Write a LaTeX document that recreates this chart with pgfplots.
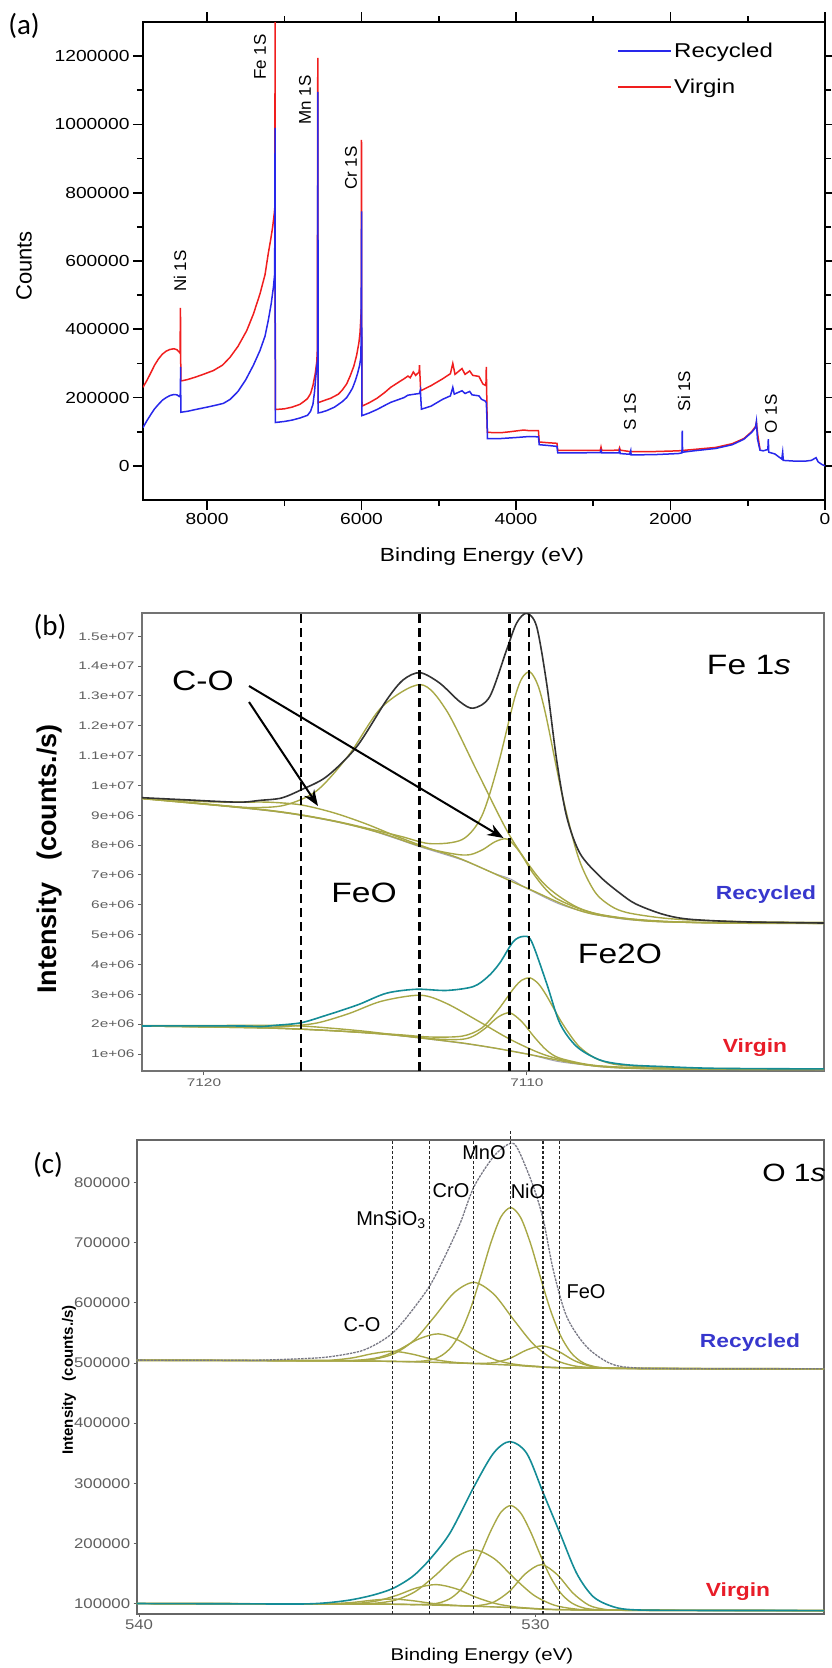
\documentclass[border=0pt]{standalone}
\usepackage{fontspec}
\setmainfont{Liberation Sans}
\newfontfamily\wideA[FakeStretch=1.2]{Liberation Sans}
\newfontfamily\wideB[FakeStretch=1.4]{Liberation Sans}
\newfontfamily\carlito{Carlito}
\usepackage{pgfplots}
\pgfplotsset{compat=1.18}
\usetikzlibrary{arrows.meta}
\newcommand{\fs}[1]{\fontsize{#1}{#1}\selectfont}

\definecolor{svblue}{RGB}{40,40,235}
\definecolor{svred}{RGB}{240,30,30}
\definecolor{olv}{RGB}{168,168,70}
\definecolor{tealc}{RGB}{20,140,150}
\definecolor{bgc}{RGB}{165,165,180}
\definecolor{envg}{RGB}{120,120,132}
\definecolor{lblue}{RGB}{55,55,205}
\definecolor{lred}{RGB}{232,28,40}
\definecolor{tickg}{RGB}{95,95,95}

\begin{document}
\begin{tikzpicture}
\path[use as bounding box] (0pt,0pt) rectangle (832pt,-1668pt);

% ---------------- (a) survey spectra
\begin{axis}[
  at={(143pt,-22pt)}, anchor=north west, scale only axis,
  width=682pt, height=478pt,
  xmin=0, xmax=8830, x dir=reverse,
  ymin=-100000, ymax=1300000,
  xtick={0,2000,4000,6000,8000},
  minor xtick={1000,3000,5000,7000},
  ytick={0,200000,400000,600000,800000,1000000,1200000},
  minor ytick={100000,300000,500000,700000,900000,1100000},
  scaled ticks=false,
  xticklabel style={/pgf/number format/1000 sep={}},
  yticklabel style={/pgf/number format/fixed,/pgf/number format/1000 sep={}},
  /pgf/number format/assume math mode=true,
  tick label style={font=\wideA\fs{16}},
  tick align=outside, major tick length=10pt, minor tick length=6pt,
  tick style={black, line width=1.6pt},
  axis line style={line width=2.2pt},
  clip mode=individual,
  reverse legend,
  legend cell align=left,
  legend style={at={(axis description cs:0.695,0.96)}, anchor=north west,
    draw=none, fill=none, font=\wideA\fs{20}, row sep=16pt, inner sep=0pt},
  legend image code/.code={\draw[#1,line width=2pt] (0pt,0pt) -- (53pt,0pt);},
]
\addplot[svred, line width=1.5pt] coordinates {
(8830,230000) (8780,250000) (8730,272000) (8680,295000) (8630,313000) (8580,327000)
(8530,336000) (8480,341000) (8430,343000) (8390,340000) (8360,333000) (8350,330000)
(8345,463000) (8340,250000) (8329,249000) (8250,253000) (8150,260000) (8050,268000)
(7920,279000) (7800,295000) (7703,318000) (7600,350000) (7487,396000) (7400,445000)
(7315,504000) (7250,560000) (7208,622000) (7175,665000) (7151,700000) (7130,740000)
(7122,760000) (7120,1350000) (7117,165000) (7000,167000) (6900,172000) (6800,180000)
(6750,188000) (6700,197000) (6660,212000) (6630,235000) (6600,270000) (6580,305000)
(6573,338000) (6567,1195000) (6563,185000) (6490,191000) (6400,198000) (6300,210000)
(6250,222000) (6193,240000) (6150,262000) (6100,292000) (6063,325000) (6035,360000)
(6020,390000) (6008,440000) (6003,465000) (6001,955000) (5997,250000) (5994,175000)
(5900,185000) (5800,198000) (5700,215000) (5623,230000) (5500,248000) (5450,255000)
(5400,263000) (5370,258000) (5330,275000) (5300,265000) (5255,275000) (5250,295000)
(5235,220000) (5100,235000) (4950,255000) (4850,270000) (4819,300000) (4790,268000)
(4700,285000) (4660,268000) (4600,278000) (4560,265000) (4480,262000) (4430,240000)
(4390,235000) (4385,290000) (4372,98000) (4200,97000) (4076,100000) (3900,105000)
(3828,103000) (3710,103000) (3700,70000) (3600,68000) (3470,66000) (3460,45000)
(3200,45000) (2910,45000) (2900,55000) (2890,45000) (2670,46000) (2660,53000)
(2650,46000) (2560,43000) (2530,42000) (2200,42000) (1900,44000) (1700,48000)
(1414,54000) (1200,65000) (1050,80000) (1000,90000) (950,100000) (900,115000)
(888,127000) (870,90000) (850,60000) (842,49000)
};
\addlegendentry{Virgin}
\addplot[svblue, line width=1.5pt] coordinates {
(8830,112000) (8780,132000) (8730,150000) (8680,167000) (8630,180000) (8580,192000)
(8530,200000) (8480,206000) (8430,209000) (8390,208000) (8360,203000) (8350,205000)
(8346,215000) (8343,290000) (8340,157000) (8250,160000) (8150,165000) (8000,172000)
(7900,177000) (7789,183000) (7700,195000) (7600,218000) (7500,252000) (7400,295000)
(7315,338000) (7250,380000) (7208,426000) (7170,475000) (7141,524000) (7125,563000)
(7120,990000) (7117,127000) (7000,130000) (6900,134000) (6800,140000) (6700,148000)
(6660,160000) (6630,180000) (6610,215000) (6595,255000) (6580,290000) (6570,310000)
(6566,1095000) (6562,155000) (6520,157000) (6450,162000) (6350,172000) (6250,188000)
(6193,200000) (6150,215000) (6117,228000) (6080,250000) (6050,272000) (6025,295000)
(6008,320000) (6000,745000) (5996,147000) (5900,155000) (5800,165000) (5700,177000)
(5623,186000) (5450,200000) (5400,207000) (5313,210000) (5250,212000) (5239,222000)
(5225,166000) (5100,175000) (4950,195000) (4850,205000) (4819,230000) (4800,210000)
(4700,220000) (4660,212000) (4600,218000) (4570,208000) (4480,205000) (4447,195000)
(4400,190000) (4385,185000) (4375,130000) (4370,80000) (4200,80000) (4000,83000)
(3828,86000) (3710,85000) (3700,62000) (3600,60000) (3470,57000) (3460,38000)
(3200,38000) (2910,39000) (2900,45000) (2890,38000) (2670,38000) (2660,45000)
(2650,36000) (2530,34000) (2515,45000) (2510,32000) (2200,33000) (1900,36000)
(1852,38000) (1848,103000) (1844,40000) (1700,44000) (1414,51000) (1200,62000)
(1050,78000) (1000,88000) (950,98000) (900,112000) (888,130000) (875,80000)
(842,46000) (800,44000) (740,48000) (734,78000) (728,40000) (650,35000)
(560,20000) (548,40000) (540,16000) (400,14000) (250,14000) (177,16000)
(116,24000) (90,12000) (40,4000) (0,0)
};
\addlegendentry{Recycled}
\end{axis}

% ---------------- (b) Fe 1s
\begin{axis}[
  at={(142pt,-613pt)}, anchor=north west, scale only axis,
  width=682pt, height=458pt,
  xmin=7100.8, xmax=7121.92, x dir=reverse,
  ymin=0.43, ymax=15.78,
  xtick={7110,7120},
  ytick={1,2,3,4,5,6,7,8,9,10,11,12,13,14,15},
  yticklabels={1e+06,2e+06,3e+06,4e+06,5e+06,6e+06,7e+06,8e+06,9e+06,1e+07,1.1e+07,1.2e+07,1.3e+07,1.4e+07,1.5e+07},
  xticklabel style={/pgf/number format/1000 sep={}},
  /pgf/number format/assume math mode=true,
  tick label style={font=\wideB\fs{11}, text=tickg},
  tick align=outside, major tick length=4pt,
  xtick pos=bottom, ytick pos=left,
  tick style={tickg, line width=1pt},
  axis line style={draw=black!55, line width=1.6pt},
  clip mode=individual,
]
% recycled
\addplot[bgc, line width=1pt, smooth] coordinates {
(7121.92,9.56) (7120,9.38) (7118,9.15) (7117,9.00) (7116,8.80) (7115,8.55) (7114,8.20)
(7113.3,7.94) (7112,7.50) (7111,7.05) (7110.5,6.86) (7110,6.55) (7109,6.03) (7108,5.70)
(7107,5.52) (7106,5.44) (7105,5.41) (7103,5.39) (7100.8,5.38)};
\addplot[olv, line width=1.4pt, smooth] coordinates {
(7121.92,9.58) (7120,9.46) (7119,9.44) (7118,9.44) (7117,9.35) (7116,9.09) (7115,8.72)
(7114,8.28) (7113,7.88) (7112,7.52) (7110,6.56) (7108,5.70) (7105,5.41) (7100.8,5.38)};
\addplot[olv, line width=1.4pt, smooth] coordinates {
(7121.92,9.56) (7119.5,9.33) (7118.5,9.26) (7117.5,9.34) (7116.5,9.83) (7115.5,11.04)
(7114.5,12.62) (7113.3,13.38) (7112.5,12.53) (7111.5,10.38) (7110.5,8.26) (7109.5,6.74)
(7108.5,5.95) (7107.5,5.62) (7106,5.44) (7103,5.39) (7100.8,5.38)};
\addplot[olv, line width=1.4pt, smooth] coordinates {
(7121.92,9.56) (7118,9.16) (7116,8.81) (7114.5,8.40) (7113.6,8.07) (7112.85,7.83)
(7112.1,7.68) (7111.725,7.69) (7111.35,7.86) (7110.975,8.12) (7110.6,8.20) (7110.225,7.77)
(7109.85,7.12) (7109.475,6.59) (7109.1,6.22) (7108.35,5.86) (7107.6,5.65) (7106,5.45)
(7103,5.39) (7100.8,5.38)};
\addplot[olv, line width=1.4pt, smooth] coordinates {
(7121.92,9.58) (7118,9.17) (7116,8.82) (7114,8.32) (7113,8.05) (7112,8.19) (7111.4,8.97)
(7110.9,10.66) (7110.4,12.85) (7110.15,13.60) (7109.9,13.80) (7109.65,13.33) (7109.4,12.29)
(7108.9,9.65) (7108.4,7.57) (7107.9,6.44) (7107.4,5.96) (7106.9,5.74) (7105.9,5.57)
(7104.9,5.49) (7103,5.43) (7100.8,5.41)};
\addplot[black!80, line width=1.6pt, smooth] coordinates {
(7121.92,9.59) (7120.58,9.52) (7118.94,9.44) (7118.27,9.50) (7117.6,9.58) (7116.98,9.86)
(7116.20,10.30) (7115.27,11.30) (7114.34,12.87) (7113.83,13.54) (7113.31,13.78)
(7112.70,13.43) (7112.08,12.81) (7111.66,12.59) (7111.15,12.98) (7110.63,14.54)
(7110.32,15.44) (7110.01,15.77) (7109.70,15.33) (7109.39,13.43) (7109.08,10.86)
(7108.77,8.96) (7108.36,7.73) (7107.74,6.95) (7107.12,6.39) (7106.63,6.03) (7105.81,5.69)
(7105.0,5.52) (7103.35,5.43) (7100.8,5.39)};
% virgin
\addplot[bgc, line width=1pt, smooth] coordinates {
(7121.92,1.936) (7118.94,1.90) (7117.13,1.84) (7114.83,1.70) (7113.36,1.54) (7111.88,1.34)
(7110.57,1.12) (7109.91,0.98) (7109.09,0.76) (7108.27,0.64) (7107.45,0.55) (7105.81,0.50)
(7100.8,0.48)};
\addplot[olv, line width=1.4pt, smooth] coordinates {
(7121.92,1.95) (7120,1.95) (7119,1.96) (7118,1.96) (7117,1.94) (7116,1.86) (7115,1.76)
(7114,1.63) (7113,1.50) (7112,1.37) (7111,1.20) (7110,1.00) (7108,0.62) (7105,0.50) (7100.8,0.48)};
\addplot[olv, line width=1.4pt, smooth] coordinates {
(7121.92,1.936) (7119.5,1.91) (7118.5,1.90) (7117.5,1.92) (7116.5,2.04) (7115.5,2.36)
(7114.5,2.77) (7113.3,2.97) (7112.5,2.70) (7111.5,2.10) (7110.5,1.48) (7109.5,0.99)
(7108.5,0.70) (7107.5,0.56) (7105.8,0.50) (7100.8,0.48)};
\addplot[olv, line width=1.4pt, smooth] coordinates {
(7121.92,1.94) (7118,1.87) (7116,1.78) (7114.5,1.67) (7113.53,1.58) (7112.78,1.50)
(7112.03,1.49) (7111.655,1.60) (7111.28,1.87) (7110.905,2.23) (7110.53,2.38) (7110.155,2.08)
(7109.78,1.58) (7109.405,1.14) (7109.03,0.88) (7108.28,0.68) (7107.53,0.58) (7106,0.51)
(7103,0.49) (7100.8,0.48)};
\addplot[olv, line width=1.4pt, smooth] coordinates {
(7121.92,1.94) (7118,1.87) (7116,1.78) (7114,1.65) (7113,1.57) (7112,1.60) (7111.4,1.87)
(7110.9,2.47) (7110.4,3.21) (7110.15,3.48) (7109.9,3.55) (7109.65,3.36) (7109.4,2.97)
(7108.9,2.02) (7108.4,1.27) (7107.9,0.87) (7107.4,0.68) (7106.9,0.61) (7105.9,0.55)
(7104.9,0.52) (7103,0.505) (7100.8,0.49)};
\addplot[tealc, line width=1.6pt, smooth] coordinates {
(7121.92,1.94) (7118.94,1.94) (7118.27,1.92) (7117.79,1.96) (7116.98,2.05) (7116.15,2.32)
(7115.69,2.48) (7115.16,2.68) (7114.34,3.04) (7113.42,3.17) (7112.49,3.13) (7111.66,3.26)
(7111.2,3.60) (7110.84,4.05) (7110.42,4.77) (7110.11,4.94) (7109.86,4.78) (7109.39,3.37)
(7108.98,2.03) (7108.46,1.25) (7107.74,0.80) (7106.92,0.64) (7105.81,0.58) (7104.17,0.52)
(7100.8,0.50)};
% reference lines
\foreach \e in {7117.0,7113.32,7110.53,7109.94}{
  \edef\tmp{\noexpand\draw[black, line width=2.6pt, dash pattern=on 9pt off 5pt]
    (axis cs:\e,0.43) -- (axis cs:\e,15.78);}\tmp}
\end{axis}

% ---------------- (c) O 1s
\begin{axis}[
  at={(136.7pt,-1139.8pt)}, anchor=north west, scale only axis,
  width=687.3pt, height=473.8pt,
  xmin=522.72, xmax=540.06, x dir=reverse,
  ymin=83200, ymax=871200,
  xtick={530,540},
  ytick={100000,200000,300000,400000,500000,600000,700000,800000},
  scaled ticks=false,
  yticklabel style={/pgf/number format/fixed,/pgf/number format/1000 sep={}},
  /pgf/number format/assume math mode=true,
  tick label style={font=\wideA\fs{14}, text=tickg},
  tick align=outside, major tick length=3pt,
  xtick pos=bottom, ytick pos=left,
  tick style={tickg, line width=1pt},
  axis line style={draw=black!60, line width=2pt},
  clip mode=individual,
]
% recycled
\addplot[bgc, line width=1pt, smooth] coordinates {
(540.06,504500) (536,504000) (534.5,503500) (533.5,502500) (532.5,501000) (531.5,499000)
(530.6,496500) (530,494500) (529.5,493000) (529,491800) (528,490800) (526,490400) (522.72,490400)};
\addplot[olv, line width=1.4pt, smooth] coordinates {
(540.06,504600) (535.6,504150) (535.1,504990) (534.6,508700) (534.1,515650) (533.6,519600)
(533.1,514650) (532.6,506400) (532.1,501490) (531.6,499350) (530.6,496500) (529,491800) (522.72,490400)};
\addplot[olv, line width=1.4pt, smooth] coordinates {
(540.06,504500) (536,504000) (534.95,503885) (534.45,504760) (533.95,509310) (533.45,521920)
(532.95,539750) (532.45,548500) (531.95,538050) (531.45,518420) (530.95,503810) (530.45,497260)
(529.95,494485) (529,491800) (522.72,490400)};
\addplot[olv, line width=1.4pt, smooth] coordinates {
(540.06,504500) (536,504000) (535.05,503910) (534.55,504240) (534.05,506650) (533.55,516000)
(533.05,538600) (532.55,576800) (532.05,617000) (531.55,634100) (531.05,614500) (530.55,572000)
(530.05,531300) (529.55,506500) (529.05,495550) (528.55,492140) (528.05,491110) (526,490400)
(522.72,490400)};
\addplot[olv, line width=1.4pt, smooth] coordinates {
(540.06,504500) (535,503800) (533.12,502450) (532.62,505600) (532.37,512300) (532.12,526700)
(531.87,553000) (531.62,593500) (531.37,646000) (531.12,700800) (530.87,743000) (530.62,758500)
(530.37,741500) (530.12,697900) (529.87,641600) (529.62,587700) (529.37,546000) (529.12,518700)
(528.87,503300) (528.62,496000) (528.12,491450) (526,490400) (522.72,490400)};
\addplot[olv, line width=1.4pt, smooth] coordinates {
(540.06,504500) (534,503000) (531.82,499650) (531.42,499300) (531.02,500890) (530.62,508470)
(530.22,521700) (529.82,528500) (529.42,519400) (529.02,503970) (528.62,494790) (528.22,491600)
(527.82,490845) (526,490400) (522.72,490400)};
\addplot[envg, line width=1.3pt, dash pattern=on 2.5pt off 1pt, smooth] coordinates {
(540.06,504800) (538,504500) (536.8,505000) (535.5,508500) (534.96,512600) (534.4,520000)
(534.0,532000) (533.6,550000) (533.2,580000) (532.68,626900) (532.3,675000) (531.9,732300)
(531.55,793200) (531.06,843100) (530.72,862600) (530.55,865000) (530.39,848700) (530.05,793200)
(529.80,737800) (529.55,654600) (529.21,577000) (528.71,527100) (528.12,499500) (527.5,492000)
(526,490500) (522.72,490400)};
% virgin
\addplot[bgc, line width=1pt, smooth] coordinates {
(540.06,100000) (536,99500) (534,99000) (533,98200) (532,96800) (531,94500) (530.5,93000)
(530,91500) (529.5,90300) (529,89500) (528,88700) (526,88400) (522.72,88300)};
\addplot[olv, line width=1.4pt, smooth] coordinates {
(540.06,100000) (535.6,99580) (535.1,99930) (534.6,101850) (534.1,105600) (533.6,107500)
(533.1,104700) (532.6,100150) (532.1,97230) (531.6,95680) (530.5,93000) (529,89500) (522.72,88300)};
\addplot[olv, line width=1.4pt, smooth] coordinates {
(540.06,100000) (536,99500) (535,99450) (534.5,100270) (534,104340) (533.5,113560) (533,125880)
(532.5,131500) (532,124480) (531.5,110460) (531,99840) (530.5,94270) (530,91700) (529,89500)
(522.72,88300)};
\addplot[olv, line width=1.4pt, smooth] coordinates {
(540.06,100000) (536,99500) (534.53,99280) (534.03,100600) (533.53,105670) (533.03,119980)
(532.53,146500) (532.03,176370) (531.53,189100) (531.03,174070) (530.53,141900) (530.03,113380)
(529.53,97370) (529.03,91150) (528.53,89380) (526,88400) (522.72,88300)};
\addplot[olv, line width=1.4pt, smooth] coordinates {
(540.06,100000) (534,99000) (533.12,98240) (532.62,99220) (532.37,102150) (532.12,109540)
(531.87,124300) (531.62,149400) (531.37,184000) (531.12,221700) (530.87,251800) (530.62,262900)
(530.37,250400) (530.12,218900) (529.87,179700) (529.62,143900) (529.37,118000) (529.12,102440)
(528.87,94350) (528.62,90820) (528.12,88940) (526,88400) (522.72,88300)};
\addplot[olv, line width=1.4pt, smooth] coordinates {
(540.06,100000) (534,99000) (531.85,96160) (531.45,96540) (531.05,102470) (530.65,120680)
(530.25,149670) (529.85,164700) (529.45,147970) (529.05,117180) (528.65,97170) (528.25,90240)
(527.85,88760) (526,88400) (522.72,88300)};
\addplot[tealc, line width=1.6pt, smooth] coordinates {
(540.06,100000) (537.5,99500) (535.94,99200) (535.3,101000) (534.68,105800) (534.1,114000)
(533.59,125300) (533.1,145000) (532.68,172300) (532.16,216800) (531.55,294300) (531.06,349800)
(530.65,369300) (530.22,349800) (529.80,283300) (529.38,216800) (528.96,150200) (528.54,111300)
(528.04,94700) (527.5,89500) (526,88500) (522.72,88300)};
% reference lines
\foreach \e in {533.60,532.67,531.56,529.81,529.39}{
  \edef\tmp{\noexpand\draw[black!85, line width=1.3pt, dash pattern=on 3pt off 2pt]
    (axis cs:\e,83200) -- (axis cs:\e,871200);}\tmp}
\draw[black!85, line width=1.3pt, dash pattern=on 3pt off 2pt]
  (axis cs:530.63,83200) -- (axis cs:530.63,887000);
\end{axis}

% ---------------- texts, panel (a)
\node[font=\carlito\fs{29}] at (24pt,-26pt) {(a)};
\node[font=\fs{22}, rotate=90] at (24pt,-266pt) {Counts};
\node[font=\wideA\fs{19}] at (482pt,-557pt) {Binding Energy (eV)};
\begin{scope}[every node/.style={font=\fs{17}, rotate=90}]
\node at (260pt,-57pt) {Fe 1S};
\node at (305pt,-100pt) {Mn 1S};
\node at (351pt,-168pt) {Cr 1S};
\node at (180pt,-271pt) {Ni 1S};
\node at (630pt,-412pt) {S 1S};
\node at (684pt,-391pt) {Si 1S};
\node at (771pt,-414pt) {O 1S};
\end{scope}

% ---------------- texts, panel (b)
\node[font=\carlito\fs{29}] at (50pt,-627pt) {(b)};
\node[font=\bfseries\fs{27}, rotate=90] at (50pt,-859pt) {Intensity\hspace{0.8em}(counts./s)};
\node[font=\wideA\fs{28}] at (749pt,-665pt) {Fe 1\textit{s}};
\node[font=\wideA\fs{28}] at (203pt,-681pt) {C-O};
\node[font=\wideA\fs{28}] at (364pt,-893pt) {FeO};
\node[font=\wideA\fs{28}] at (620pt,-954pt) {Fe2O};
\node[font=\wideA\bfseries\fs{19}, text=lblue] at (766pt,-895pt) {Recycled};
\node[font=\wideA\bfseries\fs{19}, text=lred] at (755pt,-1048pt) {Virgin};
\draw[-{Stealth[length=16pt,width=12pt]}, line width=2pt] (249pt,-702pt) -- (318pt,-806pt);
\draw[-{Stealth[length=16pt,width=12pt]}, line width=2pt] (249pt,-686pt) -- (503.5pt,-838pt);

% ---------------- texts, panel (c)
\node[font=\carlito\fs{29}] at (48pt,-1165pt) {(c)};
\node[font=\bfseries\fs{15}, rotate=90] at (69pt,-1380pt) {Intensity\hspace{0.8em}(counts./s)};
\node[font=\wideA\fs{17}] at (482pt,-1656pt) {Binding Energy (eV)};
\node[font=\wideA\fs{25}] at (794pt,-1173pt) {O 1\textit{s}};
\node[font=\fs{20}] at (484pt,-1153pt) {MnO};
\node[font=\fs{20}] at (451pt,-1191pt) {CrO};
\node[font=\fs{20}] at (528pt,-1191pt) {NiO};
\node[font=\fs{20}] at (391pt,-1220pt) {MnSiO\textsubscript{3}};
\node[font=\fs{20}] at (586pt,-1292pt) {FeO};
\node[font=\fs{20}] at (362pt,-1325pt) {C-O};
\node[font=\wideA\bfseries\fs{19}, text=lblue] at (750pt,-1343pt) {Recycled};
\node[font=\wideA\bfseries\fs{19}, text=lred] at (738pt,-1592pt) {Virgin};
\end{tikzpicture}
\end{document}
